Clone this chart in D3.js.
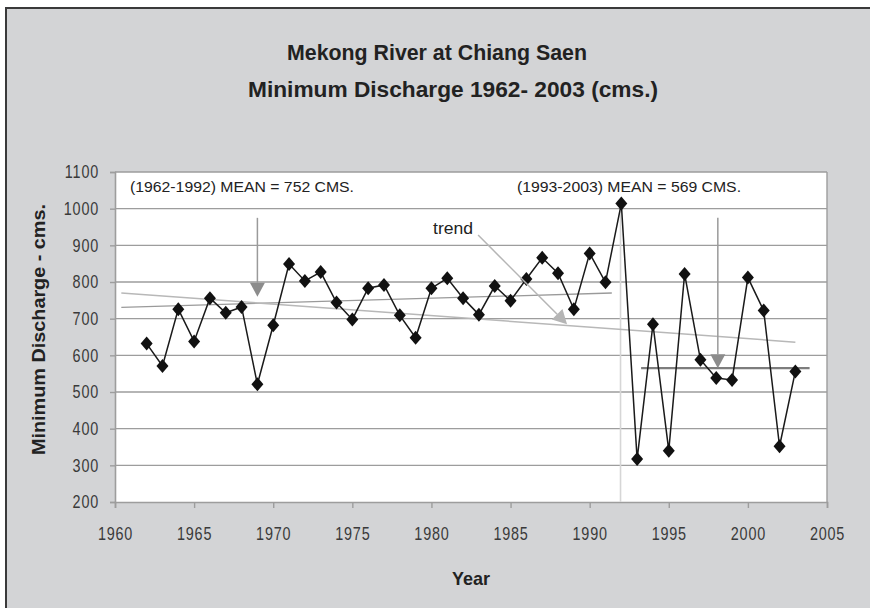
<!DOCTYPE html>
<html><head><meta charset="utf-8">
<script src="https://cdn.jsdelivr.net/npm/d3@7"></script>
<style>
body{margin:0;background:#fff;}
svg{display:block;}
</style></head>
<body>
<svg id="chart" width="870" height="608"></svg>
<script>
const years = [1962,1963,1964,1965,1966,1967,1968,1969,1970,1971,1972,1973,1974,1975,1976,1977,1978,1979,1980,1981,1982,1983,1984,1985,1986,1987,1988,1989,1990,1991,1992,1993,1994,1995,1996,1997,1998,1999,2000,2001,2002,2003];
const discharge = [632,571,726,638,756,716,732,521,682,849,803,827,744,698,783,792,709,648,783,810,756,711,789,749,808,866,824,726,878,799,1014,317,685,340,822,588,538,533,812,722,352,556];
const xTicks = [1960,1965,1970,1975,1980,1985,1990,1995,2000,2005];
const yTicks = [200,300,400,500,600,700,800,900,1000,1100];
const meanEarly = [{year:1960.4, value:731},{year:1991.4, value:770}];
const trendLine = [{year:1960.4, value:770},{year:2003.0, value:636}];
const meanLate = [{year:1993.25, value:565},{year:2003.9, value:565}];
const dividerYear = 1991.95;
const titleLines = ["Mekong River at Chiang Saen","Minimum Discharge 1962- 2003 (cms.)"];
const notes = [
  {text:"(1962-1992) MEAN = 752 CMS.", year:1960.95, value:1060},
  {text:"(1993-2003) MEAN = 569 CMS.", year:1985.41, value:1060}
];
const trendNote = {text:"trend", year:1980.1, value:945};
const arrows = [
  {x1:1969.0, y1:975, x2:1969.0, y2:760, color:"#8c8c8c", line:"#9a9a9a"},
  {x1:1982.95, y1:928, x2:1988.57, y2:685, color:"#b5b5b5", line:"#b5b5b5"},
  {x1:1998.1, y1:975, x2:1998.1, y2:565, color:"#8c8c8c", line:"#9a9a9a"}
];

const FONT = "'Liberation Sans', Arial, sans-serif";
const svg = d3.select("#chart");
svg.append("rect").attr("x",0).attr("y",0).attr("width",870).attr("height",608).attr("fill","#fff");
svg.append("rect").attr("x",6).attr("y",8).attr("width",870).attr("height",610).attr("fill","#d3d4d6")
  .attr("stroke","#3a3a3a").attr("stroke-width",2);

const L=115, R=827, T=172, B=502;
const x = d3.scaleLinear().domain([1960,2005]).range([L,R]);
const y = d3.scaleLinear().domain([200,1100]).range([B,T]);

svg.append("rect").attr("x",L).attr("y",T).attr("width",R-L).attr("height",B-T).attr("fill","#fff");

svg.append("g").selectAll("line").data(yTicks.slice(1)).join("line")
  .attr("x1",L).attr("x2",R).attr("y1",d=>y(d)).attr("y2",d=>y(d))
  .attr("stroke","#9d9d9d").attr("stroke-width",1.4);
svg.append("line").attr("x1",R).attr("x2",R).attr("y1",T).attr("y2",B).attr("stroke","#9d9d9d").attr("stroke-width",1.4);

const yAxis = svg.append("g").attr("transform",`translate(${L},0)`)
  .call(d3.axisLeft(y).tickValues(yTicks).tickSize(5).tickPadding(0).tickFormat(d3.format("d")));
const xAxis = svg.append("g").attr("transform",`translate(0,${B})`)
  .call(d3.axisBottom(x).tickValues(xTicks).tickSize(6).tickPadding(0).tickFormat(d3.format("d")));
[yAxis,xAxis].forEach(a=>{
  a.select(".domain").attr("stroke","#9d9d9d").attr("stroke-width",1.6);
  a.selectAll(".tick line").attr("stroke","#9d9d9d").attr("stroke-width",1.4);
  a.selectAll("text").attr("font-family",FONT).attr("font-size",18).attr("fill","#3a3a3a").attr("letter-spacing","1px");
});
yAxis.selectAll("text").attr("x",0).attr("transform","translate(-16,0) scale(0.8,1)");
xAxis.selectAll("text").attr("y",0).attr("dy","0.71em").attr("transform","translate(0,25) scale(0.8,1)");

const i92 = years.indexOf(1992);
svg.append("line").attr("x1",x(dividerYear)).attr("x2",x(dividerYear)).attr("y1",y(discharge[i92])).attr("y2",B)
  .attr("stroke","#d6d6d6").attr("stroke-width",1.6);

const lineGen = d3.line().x(d=>x(d.year)).y(d=>y(d.value));
svg.append("path").datum(meanEarly).attr("d",lineGen).attr("fill","none").attr("stroke","#9a9a9a").attr("stroke-width",1.3);
svg.append("path").datum(trendLine).attr("d",lineGen).attr("fill","none").attr("stroke","#b8b8b8").attr("stroke-width",1.5);
svg.append("path").datum(meanLate).attr("d",lineGen).attr("fill","none").attr("stroke","#7d7d7d").attr("stroke-width",2.2);

const data = years.map((yr,i)=>({year:yr,value:discharge[i]}));
svg.append("path").datum(data).attr("d",lineGen).attr("fill","none").attr("stroke","#1a1a1a").attr("stroke-width",1.5);
svg.append("g").selectAll("path").data(data).join("path")
  .attr("transform",d=>`translate(${x(d.year)},${y(d.value)})`)
  .attr("d","M0,-7L6,0L0,7L-6,0Z").attr("fill","#111");

arrows.forEach(a=>{
  const x1=x(a.x1), y1=y(a.y1), x2=x(a.x2), y2=y(a.y2);
  const ang=Math.atan2(y2-y1,x2-x1), hl=14, hw=7.5;
  const bx=x2-hl*Math.cos(ang), by=y2-hl*Math.sin(ang);
  svg.append("line").attr("x1",x1).attr("y1",y1).attr("x2",bx).attr("y2",by).attr("stroke",a.line).attr("stroke-width",1.5);
  const px=-Math.sin(ang), py=Math.cos(ang);
  svg.append("path").attr("d",`M${x2},${y2}L${bx+px*hw},${by+py*hw}L${bx-px*hw},${by-py*hw}Z`).attr("fill",a.color);
});

notes.forEach(n=>{
  svg.append("text").attr("x",x(n.year)).attr("y",y(n.value)).attr("dy","0.35em")
    .attr("font-family",FONT).attr("font-size",14).attr("fill","#222")
    .attr("textLength",224).attr("lengthAdjust","spacingAndGlyphs").text(n.text);
});
svg.append("text").attr("x",x(trendNote.year)).attr("y",y(trendNote.value)).attr("dy","0.35em")
  .attr("font-family",FONT).attr("font-size",16).attr("fill","#222")
  .attr("textLength",40).attr("lengthAdjust","spacingAndGlyphs").text(trendNote.text);

svg.append("g").selectAll("text").data(titleLines).join("text")
  .attr("x",(d,i)=>i?248:287).attr("y",(d,i)=>60+i*37)
  .attr("font-family",FONT).attr("font-size",22).attr("font-weight","bold").attr("fill","#222")
  .attr("textLength",(d,i)=>i?410:300).attr("lengthAdjust","spacingAndGlyphs").text(d=>d);

svg.append("text").attr("transform","translate(45,455) rotate(-90)")
  .attr("font-family",FONT).attr("font-size",18).attr("font-weight","bold").attr("fill","#222")
  .attr("textLength",251).attr("lengthAdjust","spacingAndGlyphs").text("Minimum Discharge - cms.");
svg.append("text").attr("x",452).attr("y",585)
  .attr("font-family",FONT).attr("font-size",19).attr("font-weight","bold").attr("fill","#222")
  .attr("textLength",38).attr("lengthAdjust","spacingAndGlyphs").text("Year");
</script>
</body></html>
